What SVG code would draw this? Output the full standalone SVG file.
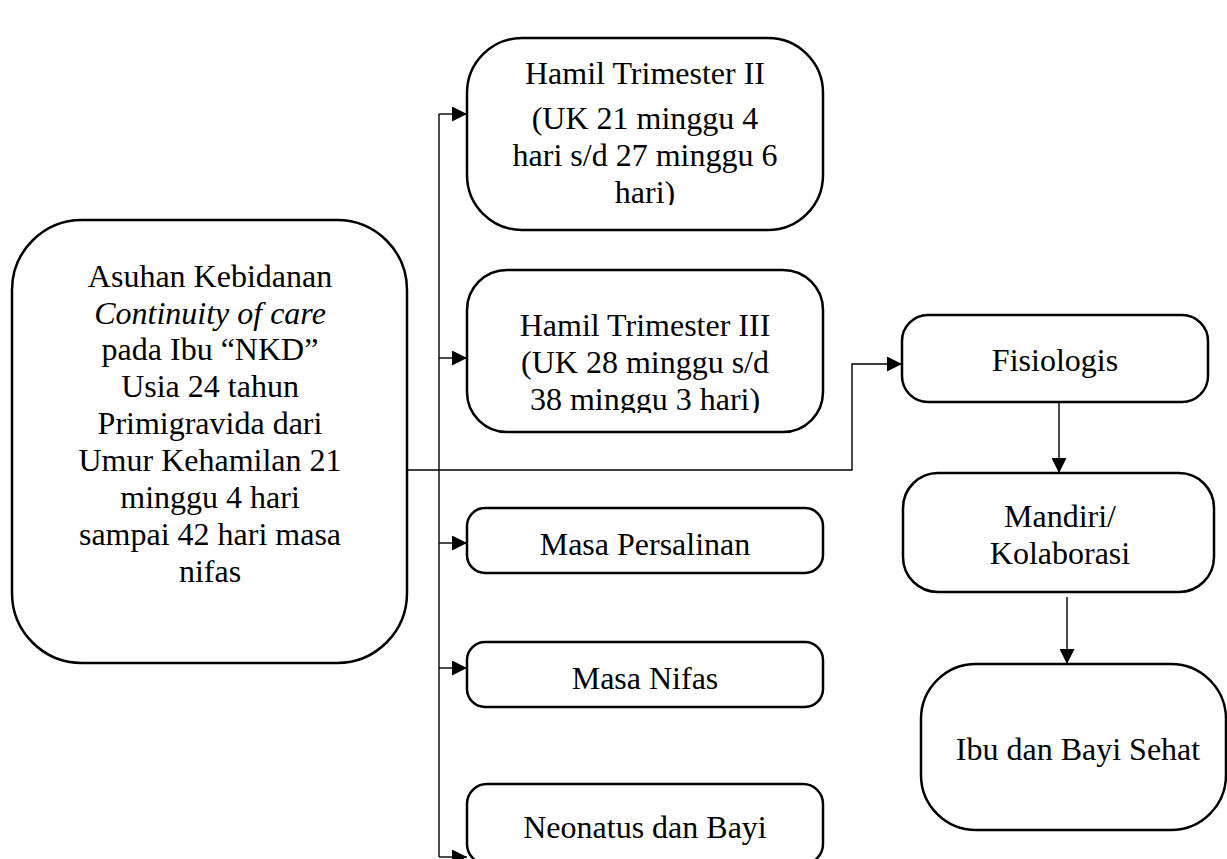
<svg xmlns="http://www.w3.org/2000/svg" width="1227" height="859" viewBox="0 0 1227 859">
<style>
.box{fill:#fff;stroke:#000;stroke-width:2.5}
.t{font-family:"Liberation Serif","Times New Roman",serif;font-size:32px;fill:#000;text-anchor:middle}
.c{fill:none;stroke:#000;stroke-width:1.4}
</style>
<defs>
<marker id="ah" viewBox="0 0 10 10" refX="10" refY="5" markerUnits="userSpaceOnUse" markerWidth="15" markerHeight="15" orient="auto">
<path d="M0,0 L10,5 L0,10 z" fill="#000"/>
</marker>
<clipPath id="clipH2"><rect x="467" y="38" width="356" height="167"/></clipPath>
<clipPath id="clipH3"><rect x="467" y="270" width="356" height="143"/></clipPath>
</defs>
<rect width="1227" height="859" fill="#fff"/>
<g id="connectors">
<path class="c" d="M407,470 H852 V364 H902" marker-end="url(#ah)"/>
<path class="c" d="M439,114 V857"/>
<path class="c" d="M439,114 H467" marker-end="url(#ah)"/>
<path class="c" d="M439,358 H467" marker-end="url(#ah)"/>
<path class="c" d="M439,543 H467" marker-end="url(#ah)"/>
<path class="c" d="M439,668 H467" marker-end="url(#ah)"/>
<path class="c" d="M439,857 H467" marker-end="url(#ah)"/>
<path class="c" d="M1059,402 V473" marker-end="url(#ah)"/>
<path class="c" d="M1067,597 V664" marker-end="url(#ah)"/>
</g>
<g id="main">
<rect class="box" x="12" y="220" width="395" height="443" rx="70" ry="70"/>
<text class="t" x="210" y="287">Asuhan Kebidanan</text>
<text class="t" x="210" y="324" font-style="italic">Continuity of care</text>
<text class="t" x="210" y="360">pada Ibu “NKD”</text>
<text class="t" x="210" y="397">Usia 24 tahun</text>
<text class="t" x="210" y="434">Primigravida dari</text>
<text class="t" x="210" y="471">Umur Kehamilan 21</text>
<text class="t" x="210" y="508">minggu 4 hari</text>
<text class="t" x="210" y="545">sampai 42 hari masa</text>
<text class="t" x="210" y="582">nifas</text>
</g>
<g id="trimester2">
<rect class="box" x="467" y="38" width="356" height="192" rx="55" ry="55"/>
<g clip-path="url(#clipH2)">
<text class="t" x="645" y="84">Hamil Trimester II</text>
<text class="t" x="645" y="129">(UK 21 minggu 4</text>
<text class="t" x="645" y="166">hari s/d 27 minggu 6</text>
<text class="t" x="645" y="203">hari)</text>
</g>
</g>
<g id="trimester3">
<rect class="box" x="467" y="270" width="356" height="162" rx="40" ry="40"/>
<g clip-path="url(#clipH3)">
<text class="t" x="645" y="336">Hamil Trimester III</text>
<text class="t" x="645" y="373">(UK 28 minggu s/d</text>
<text class="t" x="645" y="410">38 minggu 3 hari)</text>
</g>
</g>
<g id="persalinan">
<rect class="box" x="467" y="508" width="356" height="65" rx="18" ry="18"/>
<text class="t" x="645" y="555">Masa Persalinan</text>
</g>
<g id="nifas">
<rect class="box" x="467" y="642" width="356" height="65" rx="18" ry="18"/>
<text class="t" x="645" y="689">Masa Nifas</text>
</g>
<g id="neonatus">
<rect class="box" x="467" y="784" width="356" height="80" rx="20" ry="20"/>
<text class="t" x="645" y="838">Neonatus dan Bayi</text>
</g>
<g id="fisiologis">
<rect class="box" x="902" y="315" width="306" height="87" rx="26" ry="26"/>
<text class="t" x="1055" y="371">Fisiologis</text>
</g>
<g id="mandiri">
<rect class="box" x="903" y="473" width="311" height="119" rx="35" ry="35"/>
<text class="t" x="1060" y="527">Mandiri/</text>
<text class="t" x="1060" y="564">Kolaborasi</text>
</g>
<g id="sehat">
<rect class="box" x="921" y="664" width="305" height="166" rx="55" ry="55"/>
<text class="t" x="1078" y="760">Ibu dan Bayi Sehat</text>
</g>
</svg>
